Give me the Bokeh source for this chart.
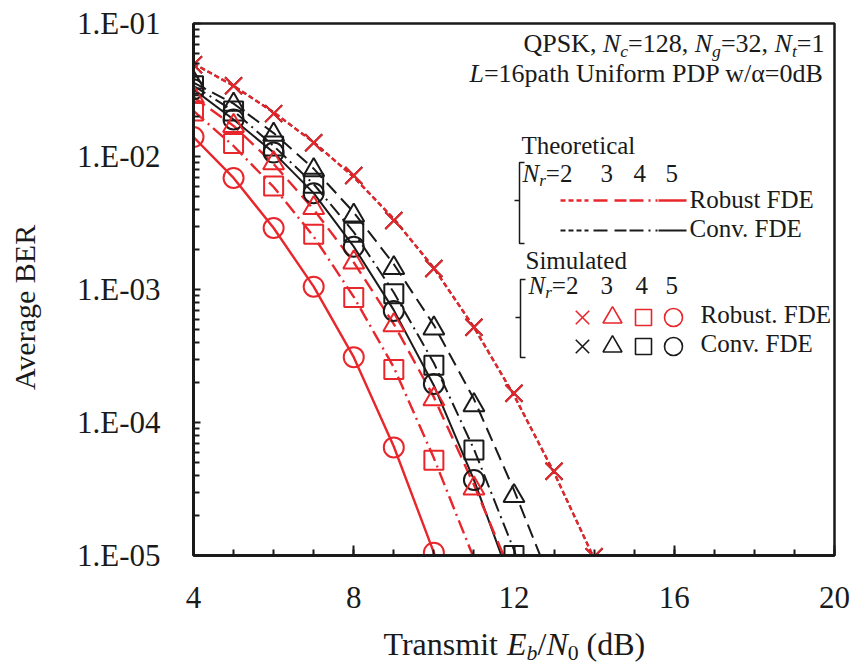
import math
from bokeh.plotting import figure
from bokeh.layouts import row, column
from bokeh.models import Range1d, LinearScale, FixedTicker, CustomJSTickFormatter, Label
from bokeh.embed import file_html
from bokeh.resources import INLINE

# ---------------- data ----------------
# Simulated points
snr_sim_2 = [4, 5, 6, 7, 8, 9, 10, 11, 12, 13, 14]
ber_sim_rob_2 = [4.9e-2, 3.4e-2, 2.1e-2, 1.27e-2, 7.2e-3, 3.3e-3, 1.44e-3, 5.2e-4, 1.66e-4, 4.3e-5, 9.8e-6]
ber_sim_conv_2 = [4.9e-2, 3.4e-2, 2.1e-2, 1.27e-2, 7.2e-3, 3.3e-3, 1.44e-3, 5.2e-4, 1.66e-4, 4.3e-5, 9.8e-6]

snr_sim_rob_3 = [4, 5, 6, 7, 8, 9, 10, 11]
ber_sim_rob_3 = [2.8e-2, 1.7e-2, 8.9e-3, 4.1e-3, 1.6e-3, 5.4e-4, 1.5e-4, 3.2e-5]
snr_sim_rob_4 = [4, 5, 6, 7, 8, 9, 10]
ber_sim_rob_4 = [2.2e-2, 1.25e-2, 6.0e-3, 2.6e-3, 8.7e-4, 2.5e-4, 5.2e-5]
snr_sim_rob_5 = [4, 5, 6, 7, 8, 9, 10]
ber_sim_rob_5 = [1.4e-2, 6.9e-3, 2.9e-3, 1.05e-3, 3.1e-4, 6.5e-5, 1.05e-5]

snr_sim_conv_3 = [4, 5, 6, 7, 8, 9, 10, 11, 12]
ber_sim_conv_3 = [3.6e-2, 2.45e-2, 1.46e-2, 7.9e-3, 3.6e-3, 1.45e-3, 5.1e-4, 1.35e-4, 2.8e-5]
snr_sim_conv_4 = [4, 5, 6, 7, 8, 9, 10, 11, 12]
ber_sim_conv_4 = [3.4e-2, 2.2e-2, 1.2e-2, 6.3e-3, 2.7e-3, 9.3e-4, 2.7e-4, 6.2e-5, 1.0e-5]
snr_sim_conv_5 = [4, 5, 6, 7, 8, 9, 10, 11]
ber_sim_conv_5 = [3.2e-2, 1.9e-2, 1.07e-2, 5.3e-3, 2.1e-3, 6.9e-4, 1.95e-4, 3.7e-5]

# Theoretical curves
snr_th_2 = [4, 5, 6, 7, 8, 9, 10, 11, 12, 13, 14, 15]
ber_th_rob_2 = [5.0e-2, 3.4e-2, 2.15e-2, 1.28e-2, 7.0e-3, 3.4e-3, 1.45e-3, 5.2e-4, 1.6e-4, 4.2e-5, 9.5e-6, 1.8e-6]
ber_th_conv_2 = [5.0e-2, 3.4e-2, 2.15e-2, 1.28e-2, 7.0e-3, 3.4e-3, 1.45e-3, 5.2e-4, 1.6e-4, 4.2e-5, 9.5e-6, 1.8e-6]
snr_th_rob_3 = [4, 5, 6, 7, 8, 9, 10, 11, 12]
ber_th_rob_3 = [2.8e-2, 1.7e-2, 8.8e-3, 4.0e-3, 1.6e-3, 5.5e-4, 1.55e-4, 3.4e-5, 6.5e-6]
snr_th_rob_4 = [4, 5, 6, 7, 8, 9, 10, 11]
ber_th_rob_4 = [2.2e-2, 1.2e-2, 5.9e-3, 2.5e-3, 8.8e-4, 2.6e-4, 5.4e-5, 9.5e-6]
snr_th_rob_5 = [4, 5, 6, 7, 8, 9, 10, 11]
ber_th_rob_5 = [1.4e-2, 6.9e-3, 2.9e-3, 1.05e-3, 3.1e-4, 6.6e-5, 1.05e-5, 1.2e-6]
snr_th_conv_3 = [4, 5, 6, 7, 8, 9, 10, 11, 12, 13]
ber_th_conv_3 = [3.6e-2, 2.5e-2, 1.5e-2, 8.1e-3, 3.8e-3, 1.55e-3, 5.4e-4, 1.5e-4, 3.1e-5, 5.5e-6]
snr_th_conv_4 = [4, 5, 6, 7, 8, 9, 10, 11, 12, 13]
ber_th_conv_4 = [3.4e-2, 2.2e-2, 1.2e-2, 6.2e-3, 2.7e-3, 9.5e-4, 2.8e-4, 6.3e-5, 1.1e-5, 1.5e-6]
snr_th_conv_5 = [4, 5, 6, 7, 8, 9, 10, 11, 12]
ber_th_conv_5 = [3.2e-2, 1.9e-2, 1.07e-2, 5.3e-3, 2.1e-3, 7.0e-4, 1.9e-4, 3.7e-5, 5.5e-6]

x_major_ticks = [4, 8, 12, 16, 20]
y_major_ticks = [1e-5, 1e-4, 1e-3, 1e-2, 1e-1]
legend_nr = ["2", "3", "4", "5"]

# ---------------- styling ----------------
RED = "#E8262B"
BLK = "#1a1a1a"
FONT = "Liberation Serif"
DASH = {2: "5 3", 3: "14 7", 4: "14 5 2 5", 5: "solid"}

# page layout (page pixels): left title strip 0..60, main 60..855 x 0..622, bottom strip 622..666
LW, MW, MH, BH = 60, 795, 622, 44
FL, FR, FT, FB = 193, 834, 23, 555   # plot frame edges in page pixels
BASE_FIX = 0.4                       # renderer puts the alphabetic baseline ~0.4em lower

p = figure(width=MW, height=MH, output_backend="svg", toolbar_location=None,
           y_axis_type="log", x_range=Range1d(4, 20), y_range=Range1d(1e-5, 1e-1),
           min_border_left=FL - LW, min_border_right=LW + MW - FR, min_border_top=FT,
           min_border_bottom=MH - FB)
p.extra_x_ranges = {"px": Range1d(FL, FR)}
p.extra_y_ranges = {"px": Range1d(FB, FT)}
p.extra_x_scales = {"px": LinearScale()}
p.extra_y_scales = {"px": LinearScale()}

p.xgrid.visible = False
p.ygrid.visible = False
p.outline_line_color = BLK
p.outline_line_width = 2.5
p.background_fill_color = "white"
p.border_fill_color = "white"

p.xaxis.ticker = FixedTicker(ticks=x_major_ticks, minor_ticks=list(range(4, 21)))
p.yaxis.ticker = FixedTicker(ticks=y_major_ticks,
                             minor_ticks=[k * 10.0 ** n for n in range(-5, -1) for k in range(2, 10)])
p.yaxis.formatter = CustomJSTickFormatter(code="""
const e = Math.round(-Math.log10(tick));
return '1.E-' + (e < 10 ? '0' + e : '' + e);
""")
for ax in (p.xaxis, p.yaxis):
    ax.axis_line_width = 3
    ax.axis_line_color = BLK
    ax.major_tick_line_color = BLK
    ax.minor_tick_line_color = BLK
    ax.major_tick_line_width = 2
    ax.minor_tick_line_width = 2
    ax.major_tick_out = 0
    ax.minor_tick_out = 0
    ax.major_label_text_font = FONT
    ax.major_label_text_font_size = "31px"
    ax.major_label_text_color = BLK
p.xaxis.major_tick_in = 10
p.xaxis.minor_tick_in = 6
p.yaxis.major_tick_in = 7
p.yaxis.minor_tick_in = 6
p.xaxis.major_label_standoff = 31
p.yaxis.major_label_standoff = 33

# ---------------- theoretical curves ----------------
th_conv = [(snr_th_2, ber_th_conv_2, 2), (snr_th_conv_3, ber_th_conv_3, 3),
           (snr_th_conv_4, ber_th_conv_4, 4), (snr_th_conv_5, ber_th_conv_5, 5)]
th_rob = [(snr_th_2, ber_th_rob_2, 2), (snr_th_rob_3, ber_th_rob_3, 3),
          (snr_th_rob_4, ber_th_rob_4, 4), (snr_th_rob_5, ber_th_rob_5, 5)]
for xs, ys, nr in th_conv:
    p.line(xs, ys, line_color=BLK, line_width=2, line_dash=DASH[nr])
for xs, ys, nr in th_rob:
    p.line(xs, ys, line_color=RED, line_width=2.4, line_dash=DASH[nr])

# ---------------- simulated markers ----------------
MARK = {2: ("x", 24), 3: ("triangle", 21), 4: ("square", 19), 5: ("circle", 20)}
sim_conv = [(snr_sim_2, ber_sim_conv_2, 2), (snr_sim_conv_3, ber_sim_conv_3, 3),
            (snr_sim_conv_4, ber_sim_conv_4, 4), (snr_sim_conv_5, ber_sim_conv_5, 5)]
sim_rob = [(snr_sim_2, ber_sim_rob_2, 2), (snr_sim_rob_3, ber_sim_rob_3, 3),
           (snr_sim_rob_4, ber_sim_rob_4, 4), (snr_sim_rob_5, ber_sim_rob_5, 5)]
for xs, ys, nr in sim_conv:
    m, s = MARK[nr]
    p.scatter(xs, ys, marker=m, size=s, fill_color=None, line_color=BLK, line_width=2)
for xs, ys, nr in sim_rob:
    m, s = MARK[nr]
    p.scatter(xs, ys, marker=m, size=s, fill_color=None, line_color=RED, line_width=2)

# ---------------- text helpers (Times metrics) ----------------
REG = {' ': 250, '(': 333, ')': 333, ',': 250, '-': 333, '.': 250, '/': 278, '=': 564,
       'A': 722, 'B': 667, 'C': 667, 'D': 722, 'E': 611, 'F': 556, 'K': 722, 'L': 611,
       'N': 722, 'P': 556, 'Q': 722, 'R': 667, 'S': 556, 'T': 611, 'U': 722,
       'a': 444, 'b': 500, 'c': 444, 'd': 500, 'e': 444, 'f': 333, 'g': 500, 'h': 500,
       'i': 278, 'l': 278, 'm': 778, 'n': 500, 'o': 500, 'p': 500, 'r': 333, 's': 389,
       't': 278, 'u': 500, 'v': 500, 'w': 722, 'α': 553}
for d in "0123456789":
    REG[d] = 500
ITA = {'N': 667, 'E': 611, 'L': 556, 'b': 500, 'c': 444, 'g': 500, 't': 278, 'r': 389}
SUB = 0.68


def tw(s, italic, size):
    tbl = ITA if italic else REG
    return sum(tbl.get(ch, REG.get(ch, 500)) for ch in s) * size / 1000.0


def mk_label(fig, text, x, y, size, italic=False, align="left", angle=0.0, rn=None):
    kw = dict(x_range_name=rn, y_range_name=rn) if rn else {}
    fig.add_layout(Label(x=x, y=y - BASE_FIX * size, text=text, text_font=FONT,
                         text_font_size=f"{size:.1f}px",
                         text_font_style="italic" if italic else "normal", angle=angle,
                         text_color=BLK, text_align=align, text_baseline="alphabetic", **kw))


def runs(fig, parts, x, base, size, align="left", rn=None):
    items = []
    total = 0.0
    for t, it, sub in parts:
        s = size * SUB if sub else size
        w = tw(t, it, s)
        items.append((t, it, sub, s, w))
        total += w
    if align == "right":
        x -= total
    for t, it, sub, s, w in items:
        lead = len(t) - len(t.lstrip())
        if t.strip():
            mk_label(fig, t.strip(), x + tw(t[:lead], it, s), base + (size * 0.16 if sub else 0),
                     s, italic=it, rn=rn)
        x += w


# ---------------- annotation box text ----------------
FS = 25
runs(p, [("QPSK, ", False, False), ("N", True, False), ("c", True, True), ("=128, ", False, False),
         ("N", True, False), ("g", True, True), ("=32, ", False, False), ("N", True, False),
         ("t", True, True), ("=1", False, False)], 824, 53, 26, align="right", rn="px")
runs(p, [("L", True, False), ("=16path Uniform PDP w/α=0dB", False, False)], 824, 83, 26,
     align="right", rn="px")

# Theoretical legend
mk_label(p, "Theoretical", 521, 155, FS, rn="px")
p.multi_line(xs=[[524, 519, 519, 524], [514, 519]], ys=[[162, 162, 243, 243], [200, 200]],
             x_range_name="px", y_range_name="px", line_color=BLK, line_width=1.5)
runs(p, [("N", True, False), ("r", True, True), ("=2", False, False)], 522, 183, FS, rn="px")
for t, xx in zip(legend_nr[1:], [600, 633, 665]):
    mk_label(p, t, xx, 183, FS, rn="px")
seg_x = {2: (560, 588), 3: (593, 626), 4: (629, 657), 5: (658, 686)}
for row_y, col, lw in ((200, RED, 2.4), (230, BLK, 2)):
    for nr, (x0, x1) in seg_x.items():
        p.line([x0, x1], [row_y, row_y], x_range_name="px", y_range_name="px",
               line_color=col, line_width=lw, line_dash=DASH[nr])
mk_label(p, "Robust FDE", 689, 209, FS, rn="px")
mk_label(p, "Conv. FDE", 689, 238, FS, rn="px")

# Simulated legend
mk_label(p, "Simulated", 525, 270, FS, rn="px")
p.multi_line(xs=[[525, 520, 520, 525], [515, 520]], ys=[[279, 279, 357, 357], [317, 317]],
             x_range_name="px", y_range_name="px", line_color=BLK, line_width=1.5)
runs(p, [("N", True, False), ("r", True, True), ("=2", False, False)], 528, 295, FS, rn="px")
for t, xx in zip(legend_nr[1:], [600, 635, 665]):
    mk_label(p, t, xx, 295, FS, rn="px")
leg_mark_x = {2: 582, 3: 612, 4: 643, 5: 673}
LMARK = {2: ("x", 19), 3: ("triangle", 19), 4: ("square", 16), 5: ("circle", 18)}
for row_y, col in ((317, RED), (346, BLK)):
    for nr, xx in leg_mark_x.items():
        m, s = LMARK[nr]
        p.scatter([xx], [row_y], marker=m, size=s, fill_color=None, line_color=col,
                  line_width=1.6, x_range_name="px", y_range_name="px")
mk_label(p, "Robust. FDE", 700, 324, FS, rn="px")
mk_label(p, "Conv. FDE", 700, 353, FS, rn="px")


# ---------------- axis titles (strips in page pixels) ----------------
def strip(w, h, x0, y0):
    f = figure(width=w, height=h, output_backend="svg", toolbar_location=None,
               x_range=Range1d(x0, x0 + w), y_range=Range1d(y0 + h, y0),
               x_axis_location=None, y_axis_location=None, min_border=0)
    f.outline_line_color = None
    f.xgrid.visible = False
    f.ygrid.visible = False
    f.background_fill_color = "white"
    f.border_fill_color = "white"
    return f


left = strip(LW, MH, 0, 0)
# rotated text: baseline fix acts along x; measured extra offset along the text direction
left.add_layout(Label(x=36 - BASE_FIX * 30, y=306 + 26, text="Average BER", text_font=FONT,
                      text_font_size="30px", angle=math.pi / 2, text_color=BLK,
                      text_align="center", text_baseline="alphabetic"))

bottom = strip(LW + MW, BH, 0, MH)
runs(bottom, [("Transmit ", False, False), ("E", True, False), ("b", True, True), ("/", False, False),
              ("N", True, False), ("0", False, True), (" (dB)", False, False)], 383, 656, 32)

layout = column(row(left, p, spacing=0), bottom, spacing=0)
open("out.html", "w").write(file_html(layout, INLINE))
